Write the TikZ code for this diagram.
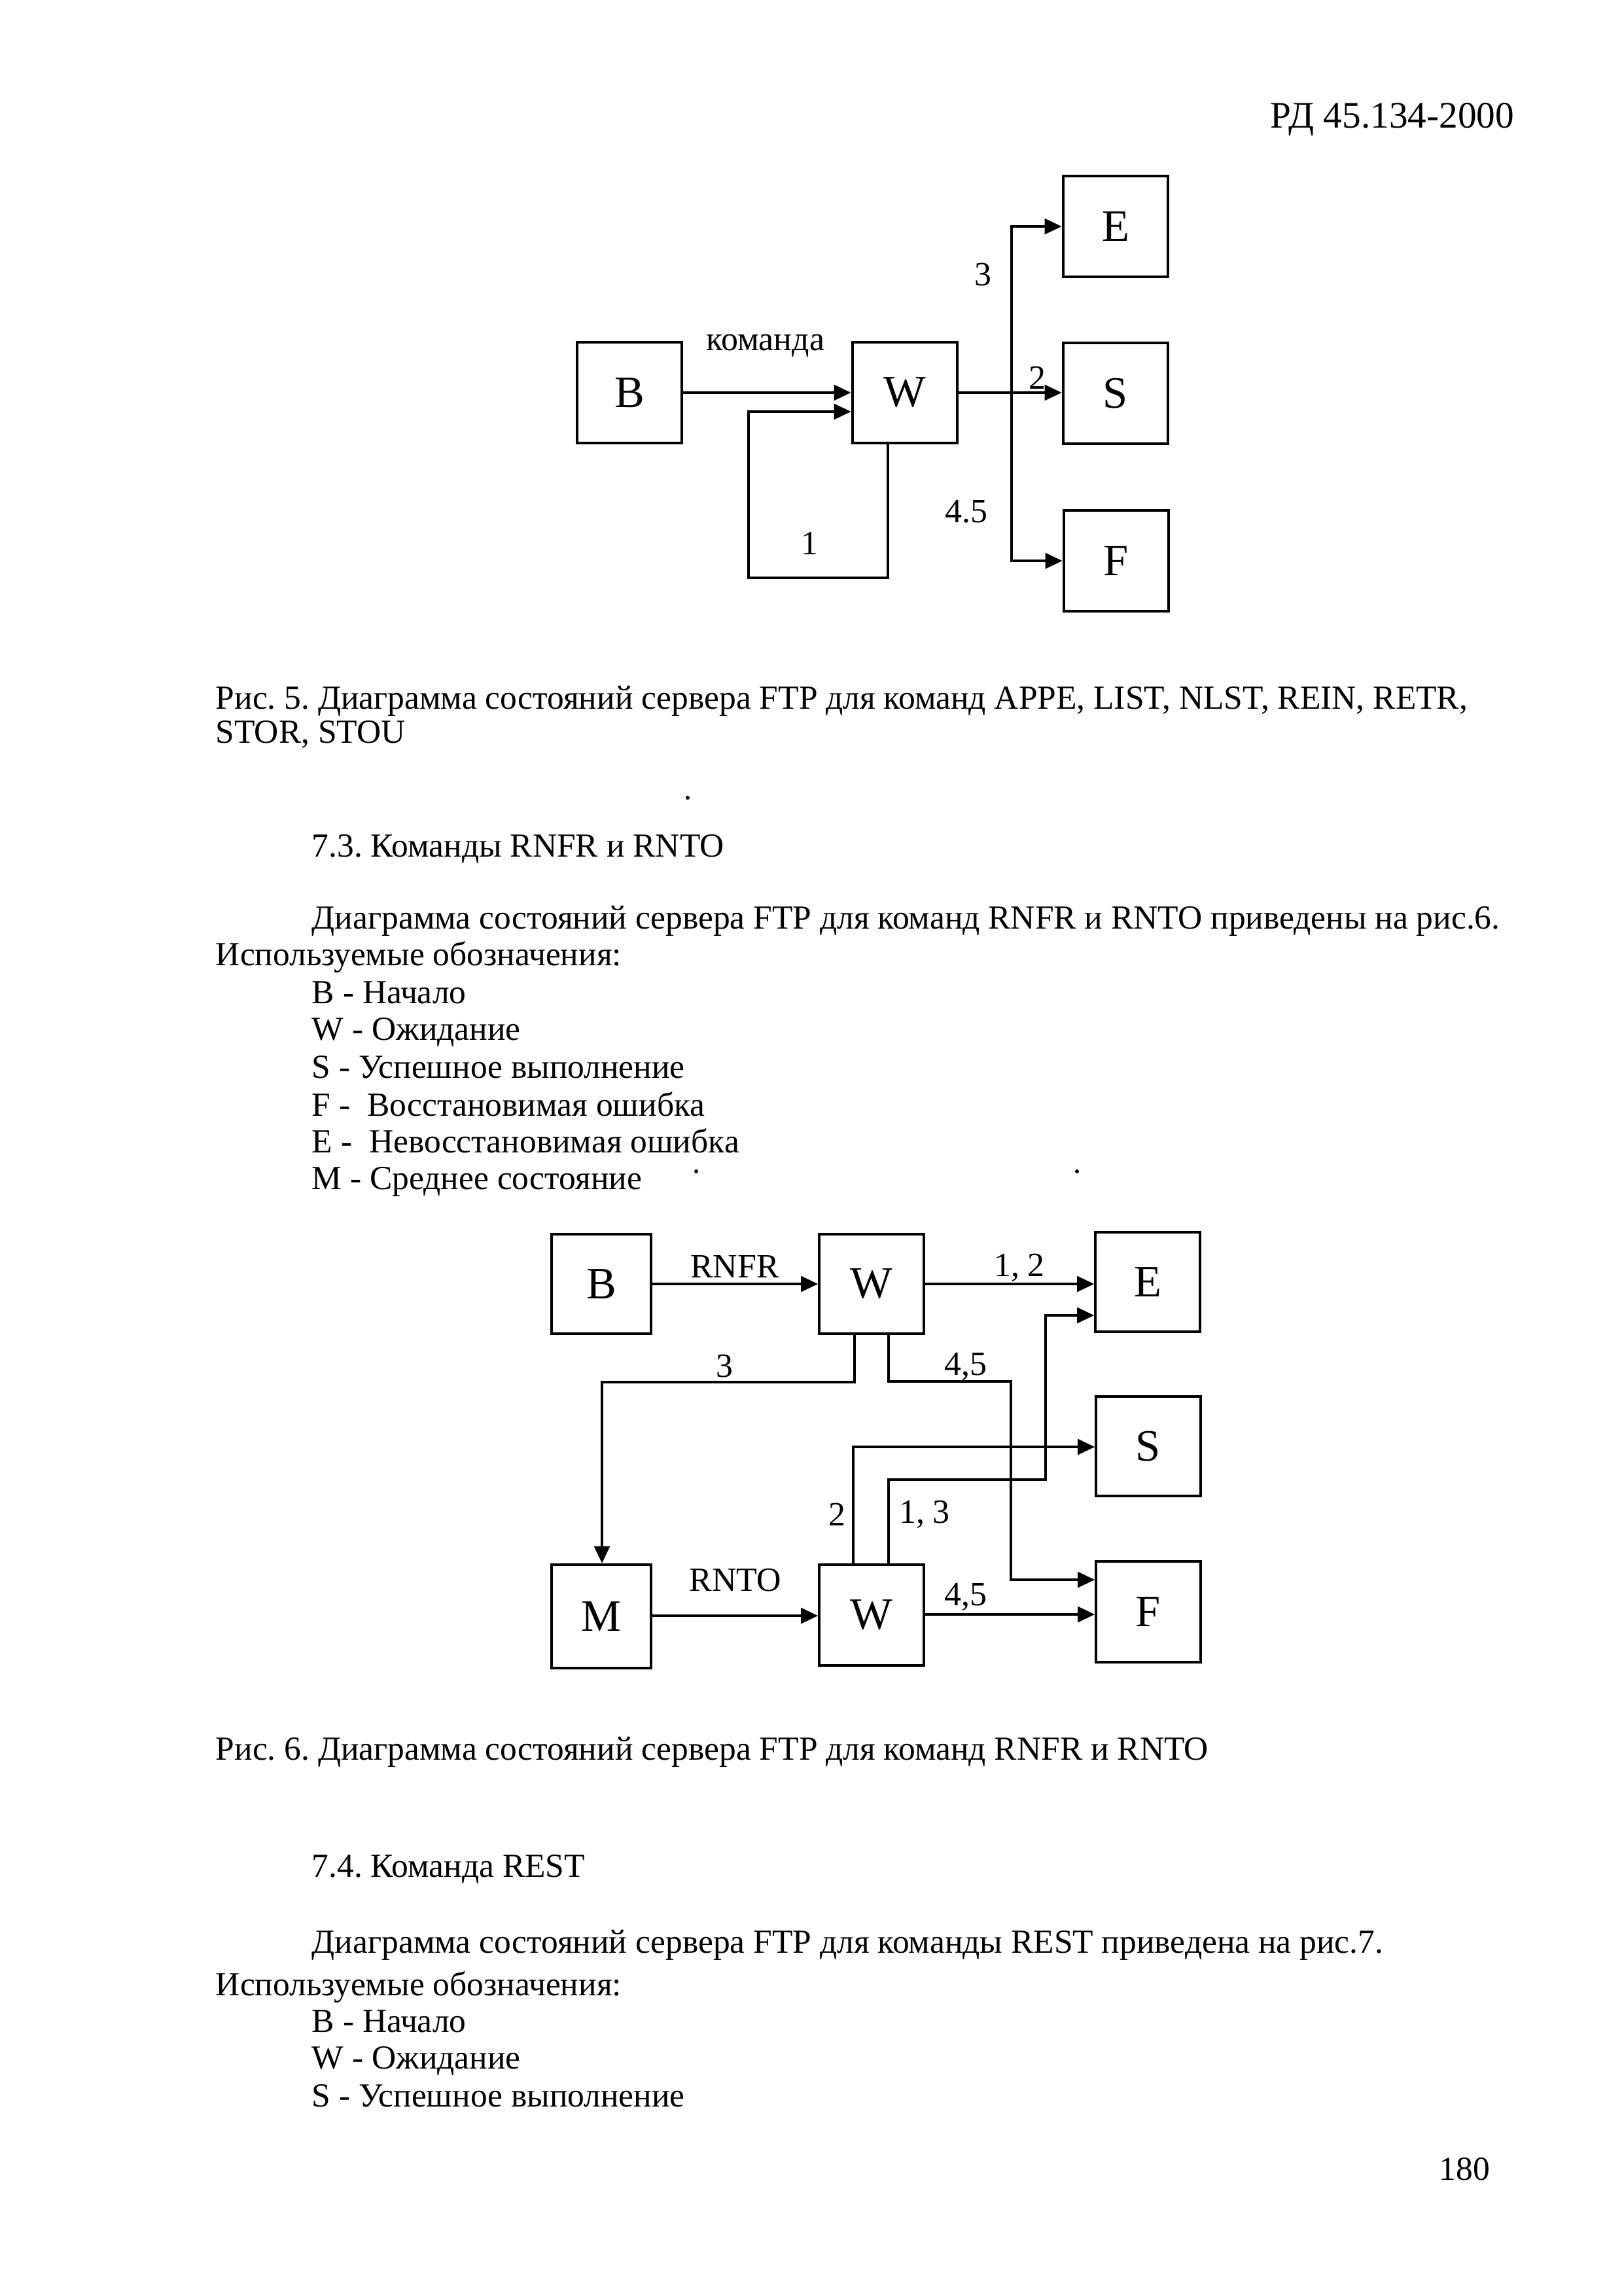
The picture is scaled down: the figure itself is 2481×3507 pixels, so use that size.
\documentclass[tikz,border=0pt]{standalone}
\usepackage{fontspec}
\setmainfont{Liberation Serif}
\usetikzlibrary{arrows.meta}
\frenchspacing
\begin{document}
\begin{tikzpicture}[x=0.08464mm,y=-0.08464mm,
  box/.style={draw,line width=1pt,minimum width=13.5mm,minimum height=13.1mm,inner sep=0pt,font=\fontsize{16.5}{18}\selectfont},
  conn/.style={line width=0.9pt},
  arr/.style={conn,-{Triangle[length=2.2mm,width=2mm]}},
  lbl/.style={font=\fontsize{12.5}{14}\selectfont,inner sep=0pt},
  txt/.style={anchor=base west,inner sep=0pt,font=\fontsize{12.4}{14}\selectfont}]
\useasboundingbox (0,0) rectangle (2481,3507);
\fill[white] (0,0) rectangle (2481,3507);

% header
\node[anchor=base east,inner sep=0pt,font=\fontsize{13.8}{15}\selectfont] (hdr) at (2315,195) {РД 45.134-2000};

% ---------- Diagram 1 ----------
\node[box] (b1) at (962,600) {B};
\node[box,minimum width=13.6mm] (w1) at (1383,600) {W};
\node[box,minimum width=13.6mm] (e1) at (1705,346) {E};
\node[box,minimum width=13.6mm] (s1) at (1705,601) {S};
\node[box,minimum width=13.6mm] (f1) at (1706,857) {F};
\draw[arr] (b1.east) -- (w1.west);
\coordinate (l1) at (1357,883);
\coordinate (l2) at (1144,629);
\draw[arr] (w1.south -| l1) -- (l1) -| (l2) -- (l2 -| w1.west);
\draw[arr] (w1.east) -- (w1.east -| s1.west);
\coordinate (j1) at (1546,600);
\draw[arr] (j1) |- (e1.west);
\draw[arr] (j1) |- (f1.west);
\node[lbl] (k1) at (1170,528) {команда};
\node[lbl] (n3) at (1502,420) {3};
\node[lbl] (n2) at (1585,577) {2};
\node[lbl] (n45) at (1477,782) {4.5};
\node[lbl] (n1) at (1237,830) {1};

% ---------- Captions and text ----------
\node[txt] (c5a) at (329,1083) {Рис. 5. Диаграмма состояний сервера FTP для команд APPE, LIST, NLST, REIN, RETR,};
\node[txt] (c5b) at (329,1135) {STOR, STOU};
\fill (1051,1219) circle (3);
\node[txt] (h73) at (476,1309) {7.3. Команды RNFR и RNTO};
\node[txt] (p1) at (476,1419) {Диаграмма состояний сервера FTP для команд RNFR и RNTO приведены на рис.6.};
\node[txt] (u1) at (329,1475) {Используемые обозначения:};
\node[txt] (i1) at (476,1533) {B - Начало};
\node[txt] (i2) at (476,1589) {W - Ожидание};
\node[txt] (i3) at (476,1647) {S - Успешное выполнение};
\node[txt] (i4) at (476,1705) {F -\ \ Восстановимая ошибка};
\node[txt] (i5) at (476,1761) {E -\ \ Невосстановимая ошибка};
\node[txt] (i6) at (476,1817) {M - Среднее состояние};
\fill (1064,1790) circle (3);
\fill (1646,1790) circle (3);

% ---------- Diagram 2 ----------
\node[box,minimum width=12.9mm,minimum height=12.9mm] (b2) at (919,1962) {B};
\node[box,minimum height=12.9mm] (w2) at (1332,1962) {W};
\node[box,minimum height=12.8mm] (e2) at (1754,1959) {E};
\node[box,minimum height=12.8mm] (s2) at (1755,2210) {S};
\node[box,minimum width=12.9mm,minimum height=13.4mm] (m2) at (919,2470) {M};
\node[box] (w3) at (1332,2468) {W};
\node[box,minimum height=13.1mm] (f2) at (1755,2463) {F};
\draw[arr] (b2.east) -- (w2.west);
\draw[arr] (w2.east) -- (w2.east -| e2.west);
% 3
\coordinate (a3) at (1306,2112);
\coordinate (a3b) at (920,2112);
\draw[arr] (w2.south -| a3) -- (a3) -- (a3b) -- (a3b |- m2.north);
% 4,5
\coordinate (a4) at (1358,2111);
\coordinate (a4b) at (1545,2414);
\draw[arr] (w2.south -| a4) -- (a4) -| (a4b) -- (a4b -| f2.west);
% 2
\coordinate (a2) at (1304,2211);
\draw[arr] (w3.north -| a2) -- (a2) -- (a2 -| s2.west);
% 1,3
\coordinate (a13) at (1358,2261);
\coordinate (a13b) at (1598,2010);
\draw[arr] (w3.north -| a13) -- (a13) -| (a13b) -- (a13b -| e2.west);
\draw[arr] (m2.east |- 0,2469) -- (w3.west |- 0,2469);
\draw[arr] (w3.east |- 0,2467) -- (f2.west |- 0,2467);
\node[lbl] (rnfr) at (1123,1935) {RNFR};
\node[lbl] (l12) at (1558,1937) {1, 2};
\node[lbl] (l3) at (1107,2088) {3};
\node[lbl] (l45a) at (1476,2088) {4,5};
\node[lbl] (l2) at (1279,2314) {2};
\node[lbl] (l13) at (1413,2314) {1, 3};
\node[lbl] (rnto) at (1124,2415) {RNTO};
\node[lbl] (l45b) at (1476,2440) {4,5};

% ---------- more text ----------
\node[txt] (c6) at (329,2689) {Рис. 6. Диаграмма состояний сервера FTP для команд RNFR и RNTO};
\node[txt] (h74) at (476,2868) {7.4. Команда REST};
\node[txt] (p2) at (476,2984) {Диаграмма состояний сервера FTP для команды REST приведена на рис.7.};
\node[txt] (u2) at (329,3049) {Используемые обозначения:};
\node[txt] (j1t) at (476,3105) {B - Начало};
\node[txt] (j2t) at (476,3161) {W - Ожидание};
\node[txt] (j3t) at (476,3219) {S - Успешное выполнение};
\node[txt] (pg) at (2199,3331) {180};
\end{tikzpicture}
\end{document}
